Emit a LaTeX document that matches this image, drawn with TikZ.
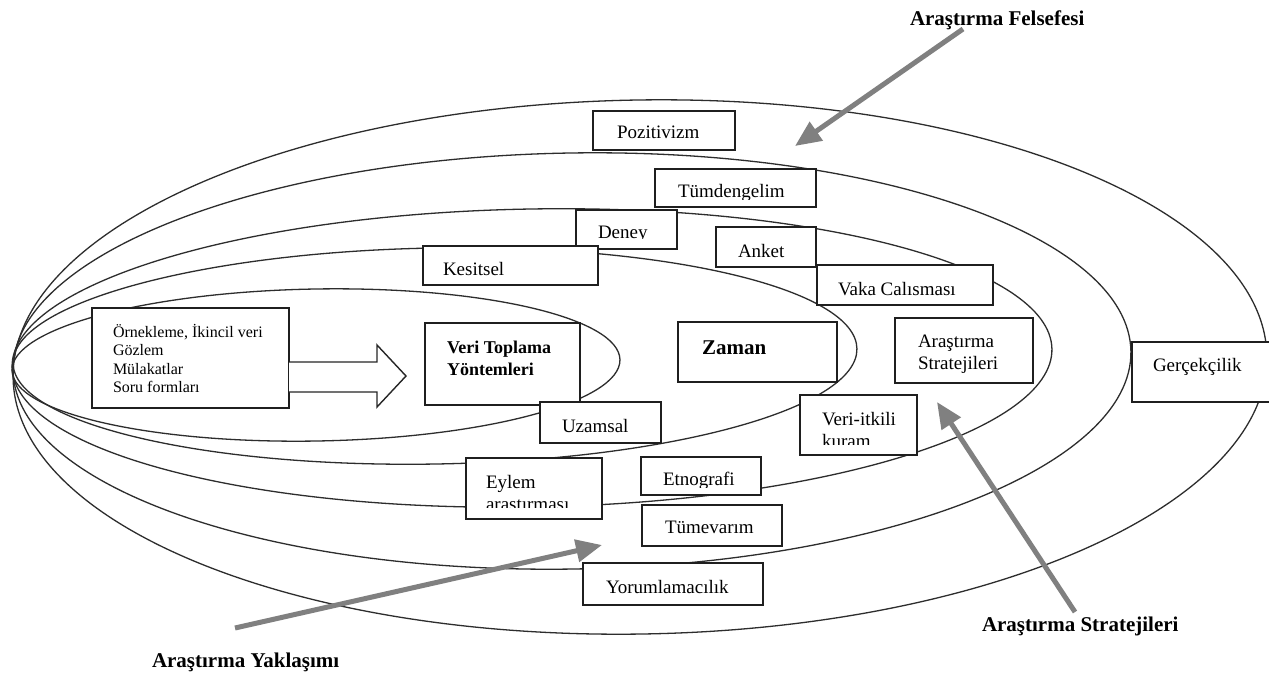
\documentclass[tikz,border=0pt]{standalone}
\usepackage{fontspec}
\setmainfont{Liberation Serif}
\usetikzlibrary{arrows.meta,calc}
\definecolor{arrgray}{RGB}{128,128,128}
\definecolor{ringcol}{RGB}{45,45,45}
\newcommand{\lines}[1]{\begin{tabular}[t]{@{}l@{}}#1\end{tabular}}
\tikzset{
  ring/.style={draw=ringcol, line width=1.3pt},
  box/.style={draw=black!88, line width=1.5pt, fill=white, inner sep=0pt, outer sep=0pt, anchor=north west},
  txt/.style={inner sep=0pt, outer sep=0pt, anchor=base west, font=\fontsize{19}{22}\selectfont},
  outerlbl/.style={inner sep=0pt, outer sep=0pt, anchor=base west, font=\fontsize{21}{24}\selectfont\bfseries},
  garrow/.style={line width=5pt, draw=arrgray, -{Triangle[length=26pt,width=22pt]}},
  blockarrow/.style={draw=black!85, line width=1.4pt, fill=white, line join=miter},
}
% name, x1, y1, x2, y2, clip-bottom, text x, text baseline, text
\newcommand{\obox}[9]{%
  \node[box, minimum width={#4-#2}, minimum height={#5-#3}] (#1) at (#2,#3) {};
  \begin{scope}
    \clip (#2,#3) rectangle (#4,#6);
    \node[txt] (#1-t) at (#7,#8) {#9};
  \end{scope}}
\begin{document}
\begin{tikzpicture}[x=1pt,y=-1pt]
\useasboundingbox (0,0) rectangle (1269,673);
\fill[white] (0,0) rectangle (1269,673);

% onion layers
\draw[ring, rotate around={1:(640,367)}] (640,367) ellipse [x radius=627, y radius=267];
\draw[ring, rotate around={1:(572,361)}] (572,361) ellipse [x radius=559, y radius=208];
\draw[ring, rotate around={1:(532,358)}] (532,358) ellipse [x radius=520, y radius=149];
\draw[ring, rotate around={1:(435,356)}] (435,356) ellipse [x radius=422, y radius=108];
\draw[ring, rotate around={1:(316,365)}] (316,365) ellipse [x radius=304, y radius=76];

% boxes
\obox{pozitivizm}{593}{111}{735}{150}{150}{617}{138}{Pozitivizm}
\obox{tumdengelim}{655}{169}{816}{207}{199}{678}{197}{Tümdengelim}
\obox{deney}{576}{210}{677}{249}{238}{598}{238}{Deney}
\obox{kesitsel}{423}{246}{598}{285}{285}{443}{275}{Kesitsel}
\obox{anket}{716}{227}{816}{267}{267}{738}{257}{Anket}
\obox{vaka}{817}{265}{993}{305}{305}{838}{295}{Vaka Calısması}
\obox{data}{92}{308}{289}{408}{408}{113}{337}{\fontsize{16}{18.5}\selectfont\lines{Örnekleme, İkincil veri\\Gözlem\\Mülakatlar\\Soru formları}}
\obox{veri}{425}{323}{580}{405}{405}{447}{353}{\fontsize{18}{22}\selectfont\bfseries\lines{Veri Toplama\\Yöntemleri}}
\obox{zaman}{678}{322}{837}{382}{382}{702}{354}{\fontsize{21}{24}\selectfont\bfseries Zaman}
\obox{uzamsal}{540}{402}{661}{443}{443}{562}{432}{Uzamsal}
\obox{stratbox}{895}{318}{1033}{383}{383}{918}{347}{\lines{Araştırma\\Stratejileri}}
\obox{veriitkili}{800}{395}{917}{455}{444}{822}{425}{\lines{Veri-itkili\\kuram}}
\obox{gercek}{1132}{342}{1275}{402}{402}{1153}{371}{Gerçekçilik}
\obox{eylem}{466}{458}{602}{519}{507}{486}{488}{\lines{Eylem\\araştırması}}
\obox{etno}{641}{457}{761}{495}{487}{663}{485}{Etnografi}
\obox{tumevarim}{642}{505}{782}{546}{546}{665}{533}{Tümevarım}
\obox{yorum}{583}{563}{763}{605}{605}{606}{593}{Yorumlamacılık}

% block arrow from data box to data collection box
\draw[blockarrow] (data.east |- 0,362) -- (377,362) -- (377,345) -- (406,376)
  -- (377,407) -- (377,392) -- (data.east |- 0,392);

% outer labels
\node[outerlbl] (lblF) at (910,25) {Araştırma Felsefesi};
\node[outerlbl] (lblS) at (982,631) {Araştırma Stratejileri};
\node[outerlbl] (lblY) at (152,667) {Araştırma Yaklaşımı};

% pointer arrows
\coordinate (fA) at (963,29);  \coordinate (fB) at (795,146);
\coordinate (sA) at (1075,612); \coordinate (sB) at (937,402);
\coordinate (yA) at (235,628); \coordinate (yB) at (602,545);
\draw[garrow] (fA) -- (fB);
\draw[garrow] (sA) -- (sB);
\draw[garrow] (yA) -- (yB);
\end{tikzpicture}
\end{document}
